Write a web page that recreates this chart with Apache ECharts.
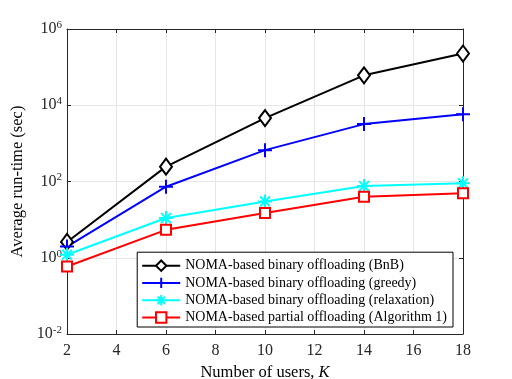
<!DOCTYPE html>
<html>
<head>
<meta charset="utf-8">
<script src="https://cdn.jsdelivr.net/npm/echarts@6/dist/echarts.min.js"></script>
<style>
html,body{margin:0;padding:0;background:#fff;}
#chart{width:512px;height:379px;}
</style>
</head>
<body>
<div id="chart"></div>
<script>
// 用户数 K
var users = [2, 6, 10, 14, 18];
// 各方案平均运行时间 (sec)
var bnb = [2.6, 245, 4600, 61000, 227000];
var greedy = [1.96, 73, 665, 3200, 5800];
var relaxation = [1.2, 11, 30, 76, 90];
var algorithm1 = [0.59, 5.4, 15, 40, 49];
var seriesNames = [
	'NOMA-based binary offloading (BnB)',
	'NOMA-based binary offloading (greedy)',
	'NOMA-based binary offloading (relaxation)',
	'NOMA-based partial offloading (Algorithm 1)'
];

var font = 'Liberation Serif';
var plusPath = 'path://M5,0 L5,10 M0,5 L10,5';
var starPath = 'path://M5,0 L5,10 M0,5 L10,5 M1.5,1.5 L8.5,8.5 M8.5,1.5 L1.5,8.5';

function toPairs(arr){
	var d = [];
	for(var i=0;i<arr.length;i++){
		d.push([users[i], arr[i]]);
	}
	return d;
}

function makeSeries(name, data, color, symbol, size, hollowFill){
	return {
		name: name,
		type: 'line',
		data: toPairs(data),
		symbol: symbol,
		symbolSize: size,
		showAllSymbol: true,
		lineStyle: { color: color, width: 2 },
		itemStyle: { color: hollowFill, borderColor: color, borderWidth: 2 },
		emphasis: { disabled: true },
		z: 3
	};
}

var myChart = echarts.init(document.getElementById('chart'), null, {renderer: 'canvas'});

var option = {
	animation: false,
	backgroundColor: '#fff',
	textStyle: { fontFamily: font },
	grid: { left: 67, right: 49, top: 29, bottom: 45, show: false, containLabel: false, outerBoundsMode: 'none' },
	legend: {
		orient: 'vertical',
		right: 59,
		bottom: 52,
		backgroundColor: '#fff',
		borderColor: '#000',
		borderWidth: 1,
		padding: [6, 6, 2, 4],
		itemGap: 2,
		itemWidth: 38,
		itemHeight: 13,
		textStyle: { fontFamily: font, fontSize: 14, color: '#000', lineHeight: 15 },
		data: seriesNames
	},
	xAxis: [{
		type: 'value',
		min: 2, max: 18, interval: 2,
		name: 'Number of users, {i|K}',
		nameLocation: 'middle',
		nameGap: 28,
		nameTextStyle: {
			fontFamily: font, fontSize: 16.5, color: '#000',
			rich: { i: { fontFamily: font, fontSize: 16.5, fontStyle: 'italic', color: '#000' } }
		},
		axisLine: { lineStyle: { color: '#262626', width: 1 } },
		axisTick: { inside: true, length: 4, lineStyle: { color: '#262626' } },
		axisLabel: { fontFamily: font, fontSize: 16, color: '#262626', margin: 9 },
		splitLine: { show: true, lineStyle: { color: '#e6e6e6', width: 1 } }
	}, {
		type: 'value',
		position: 'top',
		min: 2, max: 18, interval: 2,
		axisLine: { show: true, lineStyle: { color: '#262626', width: 1 } },
		axisTick: { inside: true, length: 4, lineStyle: { color: '#262626' } },
		axisLabel: { show: false },
		splitLine: { show: false }
	}],
	yAxis: [{
		type: 'log',
		logBase: 10,
		min: 0.01, max: 1000000,
		interval: 2,
		name: 'Average run-time (sec)',
		nameLocation: 'middle',
		nameGap: 35,
		nameTextStyle: { fontFamily: font, fontSize: 16.5, color: '#000' },
		axisLine: { show: true, lineStyle: { color: '#262626', width: 1 } },
		axisTick: { inside: true, length: 4, lineStyle: { color: '#262626' } },
		minorTick: { show: false },
		axisLabel: {
			fontFamily: font, fontSize: 16, color: '#262626', margin: 5,
			formatter: function(v){
				var e = Math.round(Math.log(v) / Math.LN10);
				return '{b|10}{s|' + e + '}';
			},
			rich: {
				b: { fontFamily: font, fontSize: 16, color: '#262626' },
				s: { fontFamily: font, fontSize: 11, color: '#262626', verticalAlign: 'top', padding: [0, 0, 8, 0] }
			}
		},
		splitLine: { show: true, lineStyle: { color: '#e6e6e6', width: 1 } }
	}, {
		type: 'log',
		logBase: 10,
		min: 0.01, max: 1000000,
		interval: 2,
		position: 'right',
		axisLine: { show: true, lineStyle: { color: '#262626', width: 1 } },
		axisTick: { inside: true, length: 4, lineStyle: { color: '#262626' } },
		axisLabel: { show: false },
		splitLine: { show: false }
	}],
	series: [
		makeSeries(seriesNames[0], bnb, '#000000', 'diamond', [12, 16], '#ffffff'),
		makeSeries(seriesNames[1], greedy, '#0000ff', plusPath, 14, 'none'),
		makeSeries(seriesNames[2], relaxation, '#00ffff', starPath, 14, 'none'),
		makeSeries(seriesNames[3], algorithm1, '#ff0000', 'rect', 10, '#ffffff')
	]
};
myChart.setOption(option);
</script>
</body>
</html>
